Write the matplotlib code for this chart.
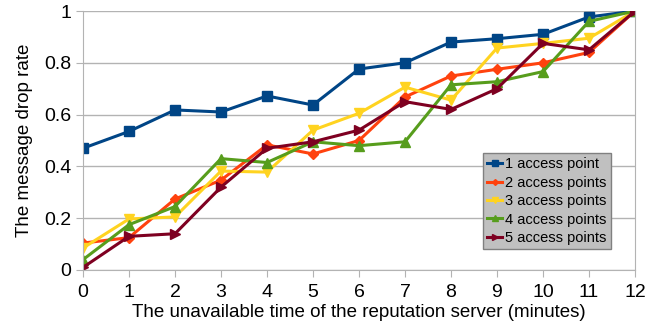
"""Message drop rate vs. reputation server downtime."""

import matplotlib
matplotlib.use("Agg")
import matplotlib.pyplot as plt

minutes = list(range(13))

ap1 = [0.47, 0.535, 0.618, 0.61, 0.672, 0.637, 0.776, 0.80, 0.88, 0.893, 0.91, 0.977, 1.0]
ap2 = [0.104, 0.125, 0.274, 0.347, 0.483, 0.448, 0.50, 0.668, 0.749, 0.775, 0.80, 0.84, 1.0]
ap3 = [0.085, 0.197, 0.205, 0.382, 0.378, 0.54, 0.605, 0.706, 0.656, 0.857, 0.875, 0.895, 1.0]
ap4 = [0.04, 0.175, 0.245, 0.43, 0.415, 0.495, 0.48, 0.495, 0.715, 0.727, 0.766, 0.96, 1.0]
ap5 = [0.01, 0.13, 0.14, 0.32, 0.47, 0.495, 0.54, 0.65, 0.62, 0.70, 0.875, 0.85, 1.0]

labels = ["1 access point", "2 access points", "3 access points",
          "4 access points", "5 access points"]
colors = ["#004586", "#ff420e", "#ffd320", "#579d1c", "#7e0021"]
markers = ["s", "D", "v", "^", ">"]
msizes = [7, 5, 7.5, 7.5, 7.5]

plt.rcParams["font.family"] = ["Liberation Sans", "DejaVu Sans"]

fig = plt.figure(figsize=(6.57, 3.3), dpi=100)
ax = fig.add_axes([83 / 657, 1 - 270 / 330, 552 / 657, 259 / 330])

for ys, lab, c, m, ms in zip([ap1, ap2, ap3, ap4, ap5], labels, colors, markers, msizes):
    ax.plot(minutes, ys, color=c, marker=m, markersize=ms, linewidth=2.2, label=lab)

ax.set_xlim(0, 12)
ax.set_ylim(0, 1)
ax.set_xticks(minutes)
ax.set_yticks([0, 0.2, 0.4, 0.6, 0.8, 1])
ax.set_yticklabels(["0", "0.2", "0.4", "0.6", "0.8", "1"])
ax.yaxis.grid(True, color="#b3b3b3", linewidth=1)
ax.set_axisbelow(True)
for s in ["left", "right", "bottom", "top"]:
    ax.spines[s].set_color("#b3b3b3")
ax.spines["top"].set_visible(False)
ax.tick_params(axis="both", colors="#b3b3b3", labelcolor="black", labelsize=14, length=5)
ax.tick_params(axis="x", pad=5)

ax.set_xlabel("The unavailable time of the reputation server (minutes)", fontsize=13.5, labelpad=2)
ax.set_ylabel("The message drop rate", fontsize=13.5, labelpad=8)

leg = ax.legend(loc="upper left", bbox_to_anchor=((483 - 83) / 552, (270 - 153) / 259),
                fontsize=10.5, frameon=True, fancybox=False, handlelength=1.0,
                handletextpad=0.2, borderpad=0.3, labelspacing=0.3, borderaxespad=0,
                markerscale=0.6)
leg.get_frame().set_facecolor("#c0c0c0")
leg.get_frame().set_edgecolor("#808080")
leg.get_frame().set_alpha(1)

fig.savefig("out.png", dpi=100)
